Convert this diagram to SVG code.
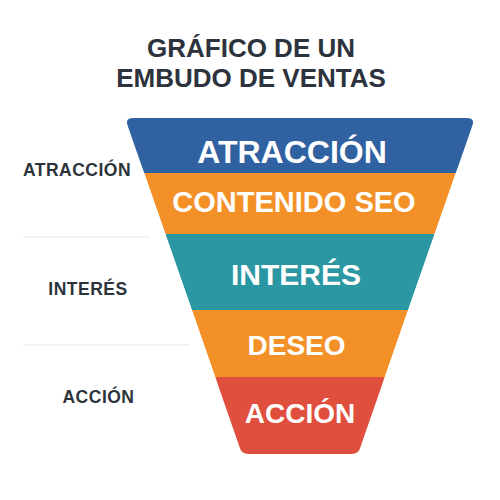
<svg xmlns="http://www.w3.org/2000/svg" width="500" height="500" viewBox="0 0 500 500">
<defs>
<style>
.title{font-family:"Liberation Sans",Arial,sans-serif;font-weight:700;font-size:26px;fill:#2c333c;text-anchor:middle}
.side{font-family:"Liberation Sans",Arial,sans-serif;font-weight:700;font-size:17.5px;fill:#2d333b;text-anchor:middle;letter-spacing:0.5px}
.band{font-family:"Liberation Sans",Arial,sans-serif;font-weight:700;fill:#ffffff;text-anchor:middle}
.sep{stroke:#e6e8eb;stroke-width:1.2}
</style>
<clipPath id="funnelClip">
<path d="M133,118 H467 Q475,118 472.4,125.6 L360,448.3 Q358,454 352,454 H248 Q242,454 240,448.3 L127.6,125.6 Q125,118 133,118 Z"/>
</clipPath>
</defs>
<rect width="500" height="500" fill="#ffffff"/>
<g id="title">
<text class="title" x="251" y="57">GRÁFICO DE UN</text>
<text class="title" x="251" y="87">EMBUDO DE VENTAS</text>
</g>
<g id="connectors">
<line class="sep" x1="23" y1="237" x2="150" y2="237"/>
<line class="sep" x1="23" y1="345" x2="190" y2="345"/>
</g>
<g id="side-labels">
<text class="side" x="77" y="176">ATRACCIÓN</text>
<text class="side" x="88" y="295">INTERÉS</text>
<text class="side" x="98.5" y="403">ACCIÓN</text>
</g>
<g clip-path="url(#funnelClip)">
<g id="band-atraccion">
<polygon points="120,118 480,118 455.8,173 144.2,173" fill="#3061a0"/>
<text class="band" x="292" y="163" font-size="32">ATRACCIÓN</text>
</g>
<g id="band-contenido">
<polygon points="144.2,173 455.8,173 434.6,234 165.4,234" fill="#f39128"/>
<text class="band" x="294" y="212" font-size="29">CONTENIDO SEO</text>
</g>
<g id="band-interes">
<polygon points="165.4,234 434.6,234 408.1,310 191.9,310" fill="#2b97a3"/>
<text class="band" x="296" y="285" font-size="30">INTERÉS</text>
</g>
<g id="band-deseo">
<polygon points="191.9,310 408.1,310 384.8,377 215.2,377" fill="#f39128"/>
<text class="band" x="296.5" y="355" font-size="28">DESEO</text>
</g>
<g id="band-accion">
<polygon points="215.2,377 384.8,377 360,460 240,460" fill="#e04f3e"/>
<text class="band" x="300" y="423" font-size="28">ACCIÓN</text>
</g>
</g>
</svg>
